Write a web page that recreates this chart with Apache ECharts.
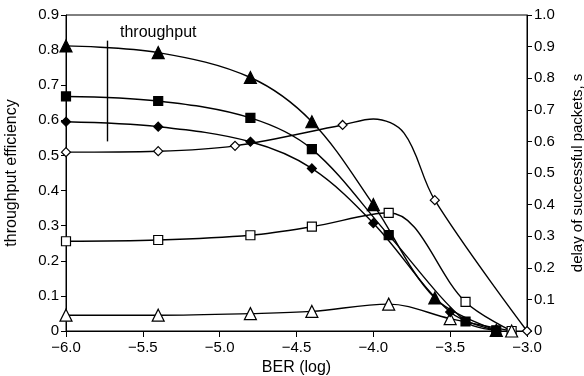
<!DOCTYPE html>
<html>
<head>
<meta charset="utf-8">
<script src="https://cdn.jsdelivr.net/npm/echarts@6/dist/echarts.min.js"></script>
<style>html,body{margin:0;padding:0;background:#fff;}#c{width:584px;height:376px;}</style>
</head>
<body>
<div id="c"></div>
<script>
// Throughput efficiency (left axis)
const triFilledX = [-6.0, -5.4, -4.8, -4.4, -4.0, -3.6, -3.2];
const triFilledY = [0.812, 0.793, 0.722, 0.596, 0.360, 0.094, 0.002];
const sqFilledX = [-6.0, -5.4, -4.8, -4.4, -3.9, -3.4, -3.2];
const sqFilledY = [0.668, 0.655, 0.607, 0.518, 0.273, 0.027, 0.002];
const diaFilledX = [-6.0, -5.4, -4.8, -4.4, -4.0, -3.5, -3.2];
const diaFilledY = [0.596, 0.582, 0.539, 0.463, 0.307, 0.054, 0.002];
// Delay of successful packets (right axis)
const diaOpenX = [-6.0, -5.4, -4.9, -4.2, -3.6, -3.0];
const diaOpenY = [0.566, 0.569, 0.586, 0.652, 0.414, 0.0];
// points of the drawn open-diamond curve that carry no marker
const diaOpenCurveX = [-4.0, -3.8];
const diaOpenCurveY = [0.671, 0.626];
const sqOpenX = [-6.0, -5.4, -4.8, -4.4, -3.9, -3.4, -3.1];
const sqOpenY = [0.284, 0.288, 0.303, 0.330, 0.374, 0.092, 0.0];
const triOpenX = [-6.0, -5.4, -4.8, -4.4, -3.9, -3.5, -3.1];
const triOpenY = [0.050, 0.050, 0.055, 0.062, 0.085, 0.039, 0.0];
// annotation
const annotLabel = 'throughput';
const annotX = -5.73;
const annotY = [0.54, 0.827];

const FONT = 'Liberation Sans';
function pairs(xs, ys) { return xs.map((x, i) => [x, ys[i]]); }
function withCurve(xs, ys, cxs, cys) {
  const pts = xs.map((x, i) => ({ value: [x, ys[i]] }))
    .concat(cxs.map((x, i) => ({ value: [x, cys[i]], symbol: 'none' })));
  pts.sort((a, b) => a.value[0] - b.value[0]);
  return pts;
}
function fmtY(v) { return Math.abs(v) < 1e-9 ? '0' : v.toFixed(1); }
function fmtX(v) { return v < 0 ? '\u2212' + Math.abs(v).toFixed(1) : v.toFixed(1); }

function mk(data, sym, filled, yIdx, extra) {
  return Object.assign({
    type: 'line', data: data, yAxisIndex: yIdx, smooth: 0.35,
    symbol: sym, symbolSize: sym === 'triangle' ? 12 : 9,
    showAllSymbol: true, clip: false,
    lineStyle: { color: '#000', width: 1.4 },
    itemStyle: { color: filled ? '#000' : '#fff', borderColor: '#000', borderWidth: 1.2 },
    emphasis: { disabled: true }, animation: false
  }, extra || {});
}

const chart = echarts.init(document.getElementById('c'), null, { renderer: 'canvas' });
chart.setOption({
  backgroundColor: '#fff',
  animation: false,
  grid: { left: 66, right: 57, top: 15, bottom: 45, show: true, borderColor: '#000', borderWidth: 1,
          containLabel: false, outerBoundsMode: 'none' },
  textStyle: { fontFamily: FONT },
  xAxis: {
    type: 'value', min: -6, max: -3, interval: 0.5,
    name: 'BER (log)', nameLocation: 'middle', nameGap: 29,
    nameTextStyle: { fontSize: 16, color: '#000', fontFamily: FONT },
    axisLine: { show: true, lineStyle: { color: '#000', width: 1 } },
    axisTick: { show: true, inside: false, length: 6, lineStyle: { color: '#000' } },
    axisLabel: { color: '#000', fontSize: 15, fontFamily: FONT, margin: 9, formatter: fmtX },
    splitLine: { show: false }
  },
  yAxis: [{
    type: 'value', min: 0, max: 0.9, interval: 0.1, position: 'left',
    name: 'throughput efficiency', nameLocation: 'middle', nameGap: 46, nameRotate: 90,
    nameTextStyle: { fontSize: 16, color: '#000', fontFamily: FONT },
    axisLine: { show: true, lineStyle: { color: '#000', width: 1 } },
    axisTick: { show: true, inside: false, length: 5, lineStyle: { color: '#000' } },
    axisLabel: { color: '#000', fontSize: 15, fontFamily: FONT, margin: 7, formatter: fmtY },
    splitLine: { show: false }
  }, {
    type: 'value', min: 0, max: 1.0, interval: 0.1, position: 'right',
    name: 'delay of successful packets, s', nameLocation: 'middle', nameGap: 43, nameRotate: 90,
    nameTextStyle: { fontSize: 15, color: '#000', fontFamily: FONT },
    axisLine: { show: true, lineStyle: { color: '#000', width: 1 } },
    axisTick: { show: true, inside: false, length: 5, lineStyle: { color: '#000' } },
    axisLabel: { color: '#000', fontSize: 15, fontFamily: FONT, margin: 7, formatter: fmtY },
    splitLine: { show: false }
  }],
  graphic: [{
    type: 'text', left: 120, top: 25,
    style: { text: annotLabel, font: '16px "Liberation Sans"', fill: '#000' }
  }],
  series: [
    mk(withCurve(diaOpenX, diaOpenY, diaOpenCurveX, diaOpenCurveY), 'diamond', false, 1),
    mk(pairs(sqOpenX, sqOpenY), 'rect', false, 1),
    mk(pairs(triOpenX, triOpenY), 'triangle', false, 1),
    mk(pairs(diaFilledX, diaFilledY), 'diamond', true, 0),
    mk(pairs(sqFilledX, sqFilledY), 'rect', true, 0),
    mk(pairs(triFilledX, triFilledY), 'triangle', true, 0, {
      markLine: {
        silent: true, symbol: ['none', 'none'], animation: false,
        label: { show: false },
        lineStyle: { color: '#000', width: 1.4, type: 'solid' },
        data: [[{ coord: [annotX, annotY[0]] }, { coord: [annotX, annotY[1]] }]]
      }
    })
  ]
});
</script>
</body>
</html>
